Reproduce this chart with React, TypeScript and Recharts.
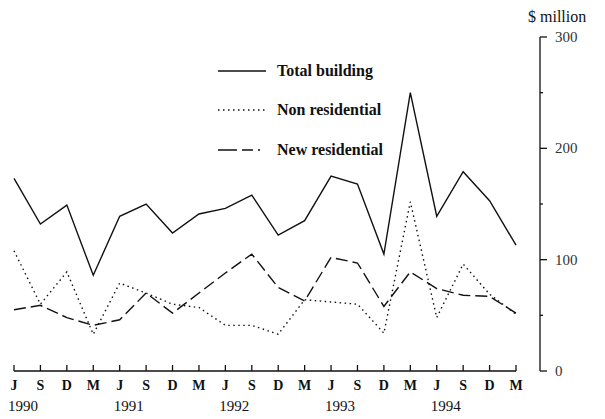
import React from 'react';
import { LineChart, Line, XAxis, YAxis } from 'recharts';

const months = ['J', 'S', 'D', 'M', 'J', 'S', 'D', 'M', 'J', 'S', 'D', 'M', 'J', 'S', 'D', 'M', 'J', 'S', 'D', 'M'];
const yearLabels = ['1990', '', '', '', '1991', '', '', '', '1992', '', '', '', '1993', '', '', '', '1994', '', '', ''];
const totalBuilding = [173, 132, 149, 86, 139, 150, 124, 141, 146, 158, 122, 135, 175, 168, 105, 250, 139, 179, 153, 113];
const nonResidential = [108, 60, 89, 33, 79, 70, 60, 57, 41, 41, 33, 64, 62, 60, 34, 152, 48, 96, 69, 51];
const newResidential = [55, 59, 48, 41, 46, 70, 52, 70, 88, 105, 75, 63, 102, 97, 58, 89, 74, 68, 67, 52];
const yTicks = [0, 50, 100, 150, 200, 250, 300];
const yMajor = [0, 100, 200, 300];

const data = months.map((m, i) => ({
  idx: i,
  total: totalBuilding[i],
  nonRes: nonResidential[i],
  newRes: newResidential[i],
}));

const FONT = '"Liberation Serif", "Times New Roman", serif';
const INK = '#111';

const XTick = (props: any) => {
  const { x, y, payload } = props;
  const i = Number(payload.value);
  return (
    <g>
      <line x1={x} x2={x} y1={y - 6} y2={y} stroke={INK} strokeWidth={1.3} />
      <text x={x} y={y + 19} textAnchor="middle" fontSize={14} fontWeight="bold" fontFamily={FONT} fill={INK}>
        {months[i]}
      </text>
      {yearLabels[i] ? (
        <text x={x - 6} y={y + 40} textAnchor="start" fontSize={15} fontFamily={FONT} fill={INK}>
          {yearLabels[i]}
        </text>
      ) : null}
    </g>
  );
};

const YTick = (props: any) => {
  const { x, y, payload } = props;
  const v = Number(payload.value);
  const major = yMajor.includes(v);
  return (
    <g>
      <line x1={x} x2={x + (major ? 7 : 3)} y1={y} y2={y} stroke={INK} strokeWidth={1.3} />
      {major ? (
        <text x={x + 15} y={y + 5} fontSize={15} fontFamily={FONT} fill="#333">
          {v}
        </text>
      ) : null}
    </g>
  );
};

const legendItems = [
  { label: 'Total building', dash: undefined as string | undefined, top: 71 },
  { label: 'Non residential', dash: '1.5 3.5', top: 110 },
  { label: 'New residential', dash: '19 5 11 5 2 6', top: 150 },
];

export default function App() {
  return (
    <div style={{ position: 'absolute', left: 0, top: 0, width: 605, height: 419, background: '#fff', fontFamily: FONT }}>
      <LineChart
        width={605}
        height={419}
        data={data}
        margin={{ top: 37, right: 0, bottom: 0, left: 14 }}
      >
        <XAxis
          dataKey="idx"
          type="category"
          axisLine={{ stroke: INK, strokeWidth: 1.3 }}
          tickLine={false}
          tickSize={0}
          tickMargin={0}
          height={48}
          interval={0}
          padding={{ left: 0, right: 0 }}
          tick={<XTick />}
        />
        <YAxis
          yAxisId="a"
          orientation="right"
          type="number"
          domain={[0, 300]}
          width={24}
          axisLine={false}
          tickLine={false}
          tick={false}
        />
        <YAxis
          yAxisId="b"
          orientation="right"
          type="number"
          domain={[0, 300]}
          ticks={yTicks}
          interval={0}
          width={65}
          axisLine={{ stroke: INK, strokeWidth: 1.3 }}
          tickLine={false}
          tickSize={0}
          tickMargin={0}
          tick={<YTick />}
        />
        <Line yAxisId="b" dataKey="total" type="linear" stroke={INK} strokeWidth={1.4} dot={false} isAnimationActive={false} />
        <Line yAxisId="b" dataKey="nonRes" type="linear" stroke={INK} strokeWidth={1.4} strokeDasharray="1.5 3.5" dot={false} isAnimationActive={false} />
        <Line yAxisId="b" dataKey="newRes" type="linear" stroke={INK} strokeWidth={1.4} strokeDasharray="12 5" dot={false} isAnimationActive={false} />
      </LineChart>
      <div style={{ position: 'absolute', left: 528, top: 8, fontSize: 16, color: INK, whiteSpace: 'nowrap' }}>$ million</div>
      {legendItems.map((it) => (
        <div key={it.label} style={{ position: 'absolute', left: 218, top: it.top - 10, height: 20, display: 'flex', alignItems: 'center', whiteSpace: 'nowrap' }}>
          <svg width={50} height={20} style={{ display: 'block' }}>
            <line x1={0} x2={48} y1={10} y2={10} stroke={INK} strokeWidth={1.4} strokeDasharray={it.dash} />
          </svg>
          <span style={{ marginLeft: 9, fontSize: 16, fontWeight: 'bold', color: INK }}>{it.label}</span>
        </div>
      ))}
    </div>
  );
}
